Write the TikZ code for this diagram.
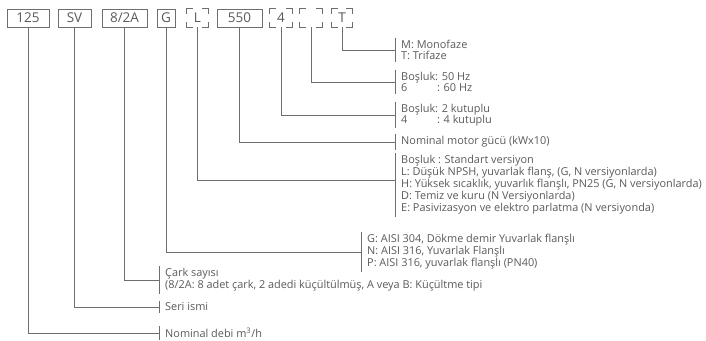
\documentclass[tikz,border=0pt]{standalone}
\usepackage{fontspec}
\setmainfont{Open Sans}
\definecolor{txt}{HTML}{5A5A5A}
\definecolor{ln}{HTML}{6E6E6E}
\begin{document}
\begin{tikzpicture}[x=1pt,y=-1pt,
  codebox/.style={draw=ln,line width=0.7pt,minimum height=18pt,inner sep=0pt,text=txt,font=\fontsize{13.5}{13.5}\selectfont},
  openbox/.style={minimum height=18pt,inner sep=0pt,text=txt,font=\fontsize{13.5}{13.5}\selectfont},
  lab/.style={anchor=west,align=left,inner xsep=0pt,inner ysep=2pt,text=txt,font=\fontsize{10.9}{11.5}\selectfont},
  labt/.style={lab,font=\fontsize{10.9}{10.5}\selectfont},
  labtt/.style={lab,font=\fontsize{10.9}{9.8}\selectfont},
  conn/.style={draw=ln,line width=0.7pt}]
\useasboundingbox (0,0) rectangle (706,340);
% code boxes
\node[codebox,minimum width=42pt] (b125) at (28,18) {125};
\node[codebox,minimum width=33pt] (bSV) at (74.5,18) {SV};
\node[codebox,minimum width=45pt] (b82A) at (124.5,18) {8/2A};
\node[codebox,minimum width=18pt] (bG) at (166,18) {G};
\node[openbox,minimum width=21pt] (bL) at (197.5,18) {L};
\node[codebox,minimum width=45pt] (b550) at (239.5,18) {550};
\node[openbox,minimum width=22pt] (b4) at (281,18) {4};
\node[openbox,minimum width=22pt] (bE) at (311,18) {};
\node[openbox,minimum width=20pt] (bT) at (342,18) {T};
\foreach \n in {bL,b4,bE,bT}{
  \draw[conn] (\n.north west) ++(0,5) -- ++(0,-5) -- ++(6,0);
  \draw[conn] (\n.north east) ++(0,5) -- ++(0,-5) -- ++(-6,0);
  \draw[conn] (\n.south west) ++(0,-5) -- ++(0,5) -- ++(6,0);
  \draw[conn] (\n.south east) ++(0,-5) -- ++(0,5) -- ++(-6,0);
}
% labels
\node[lab] (lT) at (401,50) {M: Monofaze\\T: Trifaze};
\node[lab] (lE) at (401,82) {Boşluk: 50 Hz\\\rlap{6}\hphantom{Boşluk}\,: 60 Hz};
\node[lab] (l4) at (401,115) {Boşluk: 2 kutuplu\\\rlap{4}\hphantom{Boşluk}\,: 4 kutuplu};
\node[lab] (l550) at (401,142) {Nominal motor gücü (kWx10)};
\node[labt] (lL) at (401,185) {Boşluk : Standart versiyon\\L: Düşük NPSH, yuvarlak flanş, (G, N versiyonlarda)\\H: Yüksek sıcaklık, yuvarlık flanşlı, PN25 (G, N versiyonlarda)\\D: Temiz ve kuru (N Versiyonlarda)\\E: Pasivizasyon ve elektro parlatma (N versiyonda)};
\node[labtt] (lG) at (367,252) {G: AISI 304, Dökme demir Yuvarlak flanşlı\\N: AISI 316, Yuvarlak Flanşlı\\P: AISI 316, yuvarlak flanşlı (PN40)};
\node[labt] (l82A) at (165,280) {Çark sayısı\\(8/2A: 8 adet çark, 2 adedi küçültülmüş, A veya B: Küçültme tipi};
\node[lab] (lSV) at (165,307) {Seri ismi};
\node[lab] (l125) at (165,333) {Nominal debi m\textsuperscript{3}/h};
% bars
\foreach \l in {lT,lE,l4,l550,lL,lG,l82A,lSV,l125}{
  \draw[conn] ([xshift=-6pt]\l.north west) -- ([xshift=-6pt]\l.south west);
}
% connectors
\draw[conn] (bT.south) |- ([xshift=-6pt]lT.west);
\draw[conn] (bE.south) |- ([xshift=-6pt]lE.west);
\draw[conn] (b4.south) |- ([xshift=-6pt]l4.west);
\draw[conn] (b550.south) |- ([xshift=-6pt]l550.west);
\draw[conn] (bL.south) |- ([xshift=-6pt,yshift=5pt]lL.west);
\draw[conn] (bG.south) |- ([xshift=-6pt]lG.west);
\draw[conn] (b82A.south) |- ([xshift=-6pt]l82A.west);
\draw[conn] (bSV.south) |- ([xshift=-6pt]lSV.west);
\draw[conn] (b125.south) |- ([xshift=-6pt]l125.west);
\end{tikzpicture}
\end{document}
